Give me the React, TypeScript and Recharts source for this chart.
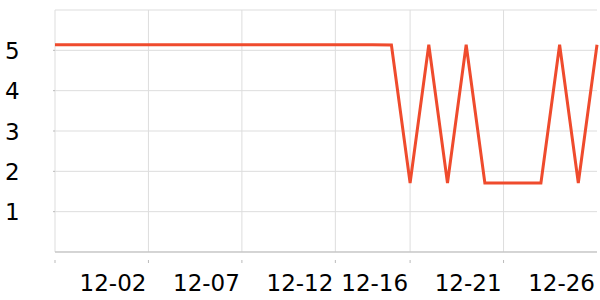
import { LineChart, Line, XAxis, YAxis, CartesianGrid, ReferenceLine } from "recharts"

const dates = [
    "11-27", "11-28", "11-29", "11-30", "12-01", "12-02", "12-03", "12-04", "12-05", "12-06",
    "12-07", "12-08", "12-09", "12-10", "12-11", "12-12", "12-13", "12-14", "12-15", "12-16",
    "12-17", "12-18", "12-19", "12-20", "12-21", "12-22", "12-23", "12-24", "12-25", "12-26",
]

const values = [
    5.14, 5.14, 5.14, 5.14, 5.14, 5.14, 5.14, 5.14, 5.14, 5.14,
    5.14, 5.14, 5.14, 5.14, 5.14, 5.14, 5.14, 5.14, 5.13, 1.71,
    5.14, 1.71, 5.14, 1.71, 1.71, 1.71, 1.71, 5.14, 1.71, 5.14,
]

const tickDates = ["11-27", "12-02", "12-07", "12-12", "12-16", "12-21", "12-26"]
const tickLabels = ["", "12-02", "12-07", "12-12", "12-16", "12-21", "12-26"]
const yTicks = [1, 2, 3, 4, 5]

const data = dates.map((d, i) => ({ day: i, date: d, value: values[i] }))
const xTicks = tickDates.map((d) => dates.indexOf(d))
const lastTick = xTicks[xTicks.length - 1]

const font = "DejaVu Sans"
const gridColor = "#dddddd"
const axisColor = "#bbbbbb"

function XTick(props: any) {
    const { x, y, payload } = props
    const idx = xTicks.indexOf(payload.value)
    return (
        <g>
            {payload.value !== lastTick && (
                <line x1={x} x2={x} y1={y} y2={y + 3} stroke={axisColor} strokeWidth={1} />
            )}
            <text x={x - 2} y={y + 31} textAnchor="end" fontFamily={font} fontSize={23} fill="#000">
                {tickLabels[idx]}
            </text>
        </g>
    )
}

function YTick(props: any) {
    const { y, payload } = props
    return (
        <g>
            <line x1={53} x2={55} y1={y} y2={y} stroke={axisColor} strokeWidth={1} />
            <text x={5} y={y + 8.5} textAnchor="start" fontFamily={font} fontSize={23} fill="#000">
                {payload.value}
            </text>
        </g>
    )
}

export default function App() {
    return (
        <div style={{ position: "absolute", left: 0, top: 0, width: 600, height: 300, background: "#fff" }}>
            <LineChart width={600} height={300} data={data} margin={{ top: 10, right: 3, left: 0, bottom: 0 }}>
                <CartesianGrid stroke={gridColor} vertical={false} />
                {xTicks.filter((t) => t !== lastTick).map((t) => (
                    <ReferenceLine key={t} x={t} stroke={gridColor} strokeWidth={1} />
                ))}
                <XAxis
                    dataKey="day"
                    type="number"
                    domain={[0, dates.length - 1]}
                    ticks={xTicks}
                    tick={<XTick />}
                    tickLine={false}
                    axisLine={{ stroke: axisColor }}
                    height={48}
                    interval={0}
                />
                <YAxis
                    domain={[0, 6]}
                    ticks={yTicks}
                    tick={<YTick />}
                    tickLine={false}
                    axisLine={false}
                    width={55}
                    interval={0}
                />
                <Line
                    type="linear"
                    dataKey="value"
                    stroke="#ef4b2d"
                    strokeWidth={3}
                    dot={false}
                    isAnimationActive={false}
                />
            </LineChart>
        </div>
    )
}
